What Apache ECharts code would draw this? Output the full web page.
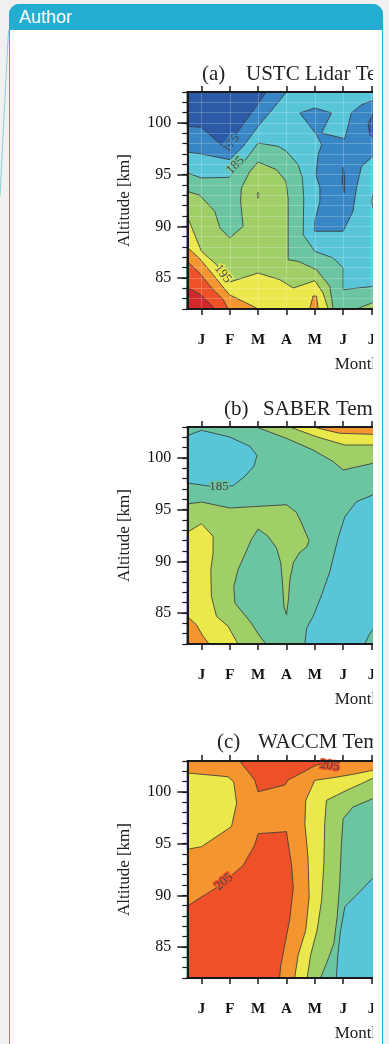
<!DOCTYPE html>
<html><head><meta charset="utf-8">
<script src="https://cdn.jsdelivr.net/npm/echarts@6/dist/echarts.min.js"></script>
<style>
html,body{margin:0;padding:0;}
body{width:389px;height:1044px;background:#f0f0f0;position:relative;overflow:hidden;}
#card{position:absolute;left:9px;top:4px;width:374px;height:1100px;background:#fff;border:1px solid #2aaed0;border-radius:10px 10px 0 0;box-sizing:border-box;}
#hdr{position:absolute;left:9px;top:4px;width:374px;height:26px;background:#23aed1;border-radius:10px 10px 0 0;}
#hdr span{position:absolute;left:10px;top:4px;line-height:18px;color:#fff;font-size:18px;font-family:'Liberation Sans',Arial,sans-serif;}
#deco{position:absolute;left:0;top:0;}
#clip{position:absolute;left:0;top:0;width:373px;height:1044px;overflow:hidden;}
#chart{position:absolute;left:0;top:0;width:600px;height:1044px;}
</style></head>
<body>
<svg id="deco" width="20" height="210"><line x1="8.5" y1="30" x2="0" y2="196" stroke="rgba(40,170,205,0.5)" stroke-width="1"/></svg>
<div id="card"></div>
<div id="hdr"><span>Author</span></div>
<div id="clip"><div id="chart"></div></div>
<script>
// ---------- data ----------
const monthLabels = ['J','F','M','A','M','J','J','A','S','O','N','D'];
const monthTicks = [1,2,3,4,5,6,7,8,9,10,11,12];
const altMajorTicks = [85,90,95,100];
const monthRange = [0.5, 12.5];
const altRange = [82, 103];
const panelTags = ['(a)','(b)','(c)'];
const panelNames = ['USTC Lidar Temperature','SABER Temperature','WACCM Temperature'];

// filled contour regions: [band lower bound (K), boundary in (month, km)]
const lidarContours = [
 [180, [[0.5,82],[0.5,103],[7.3,103],[7.3,82]]],
 [175, [[0.5,103],[4.0,103],[3.59,101.61],[3.0,99.68],[2.47,97.74],[2.0,96.45],[1.0,97.0],[0.5,97.19]]],
 [170, [[0.5,103],[3.29,103],[2.76,100.97],[2.29,99.19],[1.88,97.42],[1.0,99.58],[0.5,99.68]]],
 [175, [[4.47,100.97],[5.0,101.45],[5.59,100.97],[5.24,99.03],[6.06,98.48],[6.29,100.97],[6.65,101.77],[7.04,102.16],[7.3,102.23],[7.3,96.77],[7.04,96.77],[6.65,95.81],[6.47,93.71],[6.35,91.45],[6.0,89.52],[5.0,89.52],[5.0,90.48],[5.18,92.42],[5.18,93.71],[5.04,95.0],[5.12,96.94],[5.24,97.9],[5.06,98.87]]],
 [170, [[7.3,100.97],[7.04,100.87],[6.88,99.84],[6.94,98.87],[7.12,98.48],[7.3,98.39]]],
 [170, [[6.0,95.74],[6.06,94.68],[6.04,93.23],[5.96,94.35]]],
 [185, [[0.5,95.16],[1.0,94.68],[1.98,94.74],[2.47,96.13],[3.0,98.06],[3.71,97.74],[4.0,97.26],[4.41,95.97],[4.56,94.68],[4.61,92.74],[4.59,89.19],[5.0,87.58],[5.65,86.94],[6.0,85.97],[6.0,83.87],[7.04,84.19],[7.3,84.19],[7.3,82],[0.5,82]]],
 [185, [[7.3,94.03],[7.12,93.71],[7.0,92.42],[7.12,91.13],[7.3,90.81]]],
 [190, [[0.5,93.39],[0.94,93.0],[1.47,91.45],[1.65,89.84],[2.0,88.87],[2.47,90.0],[2.38,92.42],[2.41,93.71],[2.71,95.32],[3.0,96.23],[3.65,95.48],[3.98,94.35],[4.06,92.74],[4.06,86.77],[4.41,86.61],[5.06,85.81],[5.53,84.19],[5.65,82],[0.5,82]]],
 [190, [[6.47,82],[7.04,82.61],[7.3,82.68],[7.3,82]]],
 [195, [[0.5,90.97],[0.76,89.19],[1.0,87.58],[1.53,86.29],[2.0,84.61],[3.0,85.48],[3.76,84.84],[4.24,84.03],[4.59,84.35],[5.0,84.74],[5.29,83.55],[5.47,82],[0.5,82]]],
 [195, [[3.0,93.3],[3.03,93.0],[3.0,92.7],[2.97,93.0]]],
 [200, [[0.5,87.97],[0.94,86.87],[1.41,85.32],[1.98,83.39],[2.59,82.58],[3.0,82],[0.5,82]]],
 [200, [[4.82,82],[4.94,83.26],[5.06,83.26],[5.12,82]]],
 [205, [[0.5,86.61],[0.94,85.45],[1.41,83.87],[1.76,82.94],[1.94,82],[0.5,82]]],
 [210, [[0.5,84.1],[1.0,83.32],[1.47,82],[0.5,82]]]
];
const saberContours = [
 [185, [[0.5,82],[0.5,103],[7.3,103],[7.3,82]]],
 [180, [[0.5,102.16],[1.0,102.68],[2.0,102.03],[2.71,101.13],[2.96,100.23],[2.85,99.19],[2.53,98.23],[2.12,97.32],[1.65,97.19],[1.18,97.32],[0.5,97.58]]],
 [190, [[2.94,103],[4.0,101.9],[4.94,100.77],[5.65,99.65],[6.0,98.84],[7.04,99.48],[7.3,99.58],[7.3,103]]],
 [195, [[4.12,103],[5.06,102.06],[6.06,101.26],[7.04,101.26],[7.3,101.26],[7.3,103]]],
 [200, [[4.94,103],[5.88,102.39],[7.04,102.29],[7.3,102.29],[7.3,103]]],
 [190, [[0.5,95.55],[1.0,95.74],[2.0,95.16],[4.0,95.48],[4.35,94.74],[4.53,93.71],[4.68,92.74],[4.8,92.0],[4.71,91.39],[4.45,90.81],[4.24,89.84],[4.12,88.23],[4.07,86.29],[4.0,84.84],[3.91,85.65],[3.86,87.9],[3.8,89.84],[3.65,91.29],[3.35,92.42],[3.0,93.13],[2.76,92.1],[2.53,90.65],[2.29,89.19],[2.14,87.58],[2.18,85.97],[2.47,85.0],[2.76,84.03],[3.06,82.74],[3.27,82],[0.5,82]]],
 [195, [[0.5,92.81],[1.0,93.65],[1.41,92.42],[1.41,90.81],[1.33,89.19],[1.35,86.61],[1.53,84.68],[1.94,83.71],[2.29,82],[0.5,82]]],
 [200, [[0.5,84.68],[0.82,83.87],[1.06,82.74],[1.27,82],[0.5,82]]],
 [180, [[7.3,96.61],[7.04,96.42],[6.47,95.77],[6.06,94.32],[5.82,92.23],[5.53,89.0],[5.24,86.74],[4.94,84.68],[4.71,83.52],[4.65,82],[6.76,82],[6.92,82.9],[7.04,83.39],[7.3,83.55]]]
];
const waccmContours = [
 [200, [[0.5,82],[0.5,103],[7.3,103],[7.3,82]]],
 [195, [[0.5,101.84],[1.94,101.48],[2.14,100.97],[2.24,98.9],[2.06,96.65],[1.0,94.71],[0.5,94.45]]],
 [205, [[0.5,88.94],[0.94,89.74],[1.53,90.74],[2.0,91.77],[2.47,92.9],[2.88,94.87],[3.0,95.97],[4.0,96.16],[4.18,92.94],[4.24,90.68],[4.12,87.77],[3.94,85.19],[3.79,83.06],[3.76,82],[0.5,82]]],
 [205, [[2.35,103],[2.88,101.16],[3.0,100.03],[3.94,100.68],[4.06,101.16],[5.06,102.61],[5.65,102.94],[6.47,103]]],
 [195, [[5.0,101.13],[5.65,101.39],[6.35,101.71],[7.04,102.1],[7.3,102.23],[7.3,82],[4.29,82],[4.41,84.19],[4.68,86.61],[4.8,89.84],[4.76,93.71],[4.65,96.94],[4.68,99.19]]],
 [190, [[5.41,99.19],[6.12,100.16],[6.65,100.81],[7.04,101.32],[7.3,101.52],[7.3,82],[4.73,82],[4.85,84.19],[5.08,86.61],[5.24,89.52],[5.32,93.06],[5.35,96.94]]],
 [185, [[6.0,97.42],[6.35,98.55],[7.04,99.35],[7.3,99.52],[7.3,82],[5.2,82],[5.41,83.39],[5.67,85.32],[5.79,87.9],[5.88,91.13],[5.94,95.0]]],
 [180, [[7.3,91.94],[7.04,91.65],[6.59,90.35],[6.06,88.9],[5.91,86.61],[5.81,84.19],[5.76,82],[7.3,82]]]
];
// contour labels: [month, km, level, angle]
const lidarLabels = [[2.05,98.0,175,54],[2.2,95.9,185,45],[1.76,85.4,195,-52]];
const saberLabels = [[1.62,97.2,185,0]];
const waccmLabels = [[1.8,91.3,205,40],[5.53,102.55,205,-8]];

// ---------- rendering ----------
const bandColor = {170:'#2c5aa6',175:'#3886c6',180:'#58c5d8',185:'#6cc5a1',190:'#a1cf67',195:'#ebe84b',200:'#f5952f',205:'#ee5128',210:'#d2272b'};
const SERIF = "'Liberation Serif','Times New Roman',serif";
const contours = [lidarContours, saberContours, waccmContours];
const labels = [lidarLabels, saberLabels, waccmLabels];
const tops = [92, 427, 761];
const titleTops = [64.4, 399.1, 731.7];
const tagLefts = [202, 224, 217];
const nameLefts = [246, 263, 258];

const grid = [], xAxis = [], yAxis = [], series = [], title = [];
tops.forEach((top, i) => {
  grid.push({left: 187.3, top: top, width: 340, height: 217, outerBoundsMode:'none', containLabel:false});
  const faint = i === 0;
  xAxis.push({
    type:'value', gridIndex:i, position:'bottom', min:monthRange[0], max:monthRange[1], z:10,
    axisLine:{show:true, onZero:false, lineStyle:{color:'#1a1a1a', width:2}},
    axisTick:{show:true, customValues:monthTicks, length:6, lineStyle:{color:'#1a1a1a', width:1.5}},
    axisLabel:{customValues:monthTicks, formatter:v => monthLabels[Math.round(v)-1], margin:24,
      fontFamily:SERIF, fontWeight:'bold', fontSize:15, color:'#111'},
    splitLine:{show:faint, lineStyle:{color:'rgba(255,255,255,0.22)', width:1}},
    name:'Month', nameLocation:'middle', nameGap:47,
    nameTextStyle:{fontFamily:SERIF, fontSize:17, color:'#222'}
  });
  xAxis.push({
    type:'value', gridIndex:i, position:'top', min:monthRange[0], max:monthRange[1], z:10,
    axisLine:{show:true, onZero:false, lineStyle:{color:'#1a1a1a', width:2}},
    axisTick:{show:true, customValues:monthTicks, length:6, lineStyle:{color:'#1a1a1a', width:1.5}},
    axisLabel:{show:false}, splitLine:{show:false}
  });
  yAxis.push({
    type:'value', gridIndex:i, position:'left', min:altRange[0], max:altRange[1], z:10,
    axisLine:{show:true, onZero:false, lineStyle:{color:'#1a1a1a', width:2}},
    axisTick:{show:true, customValues:altMajorTicks, length:10, lineStyle:{color:'#1a1a1a', width:1.5}},
    axisLabel:{customValues:altMajorTicks, margin:16, fontFamily:SERIF, fontSize:16, color:'#111'},
    splitLine:{show:false},
    name:'Altitude [km]', nameLocation:'middle', nameGap:54,
    nameTextStyle:{fontFamily:SERIF, fontSize:17, color:'#222'}
  });
  yAxis.push({
    type:'value', gridIndex:i, position:'left', min:altRange[0], max:altRange[1], interval:1, z:10,
    axisLine:{show:false},
    axisTick:{show:true, length:5, lineStyle:{color:'#1a1a1a', width:1.2}},
    axisLabel:{show:false},
    splitLine:{show:faint, lineStyle:{color:'rgba(255,255,255,0.22)', width:1}}
  });
  const layers = contours[i];
  series.push({
    type:'custom', coordinateSystem:'cartesian2d', xAxisIndex:2*i, yAxisIndex:2*i, z:2,
    silent:true, animation:false,
    data: layers.map(l => l[1][0]),
    renderItem: (params, api) => {
      const layer = layers[params.dataIndex];
      return {type:'polygon', shape:{points: layer[1].map(p => api.coord(p))},
        style:{fill: bandColor[layer[0]], stroke:'#3a3a3a', lineWidth:0.85}};
    }
  });
  const labs = labels[i];
  series.push({
    type:'custom', coordinateSystem:'cartesian2d', xAxisIndex:2*i, yAxisIndex:2*i, z:3,
    silent:true, animation:false,
    data: labs.map(l => [l[0], l[1]]),
    renderItem: (params, api) => {
      const l = labs[params.dataIndex];
      const p = api.coord([l[0], l[1]]);
      return {type:'text', x:p[0], y:p[1], rotation: l[3]*Math.PI/180,
        style:{text:String(l[2]), fill:'#444', font:"13px 'Liberation Serif'",
          align:'center', verticalAlign:'middle', textAlign:'center', textVerticalAlign:'middle',
          stroke: bandColor[l[2]], lineWidth:3}};
    }
  });
  title.push({text:panelTags[i], left:tagLefts[i], top:titleTops[i], padding:0,
    textStyle:{fontFamily:SERIF, fontSize:21, fontWeight:'normal', color:'#222'}});
  title.push({text:panelNames[i], left:nameLefts[i], top:titleTops[i], padding:0,
    textStyle:{fontFamily:SERIF, fontSize:21, fontWeight:'normal', color:'#222'}});
});

const chart = echarts.init(document.getElementById('chart'), null, {renderer:'canvas'});
chart.setOption({animation:false, title, grid, xAxis, yAxis, series});
</script>
</body></html>
